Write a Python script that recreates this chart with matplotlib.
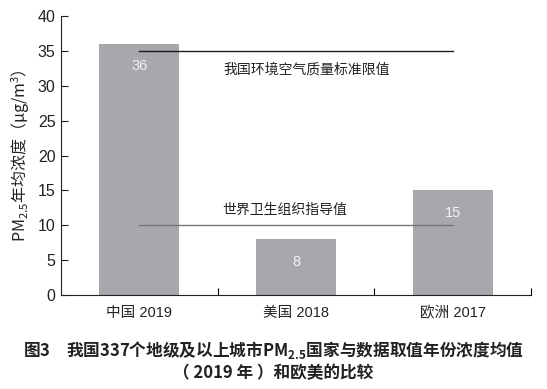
import numpy as np
import matplotlib.pyplot as plt

plt.rcParams['font.family'] = ['Liberation Sans', 'Noto Sans CJK SC']
plt.rcParams['axes.unicode_minus'] = False

categories = ['中国 2019', '美国 2018', '欧洲 2017']
values = [36, 8, 15]
labels = ['36', '8', '15']
china_std = 35
who_std = 10

fig = plt.figure(figsize=(5.47, 3.89), dpi=100)
ax = fig.add_axes([61/547, 94/389, 470/547, 279/389])

x = np.arange(len(categories))
ax.bar(x, values, width=0.51, color='#a7a8ab', zorder=1)
for xi, v, t in zip(x, values, labels):
    ax.text(xi, v - 3.2, t, ha='center', va='center', color='#f2f2f2', fontsize=10.5)

ax.plot([0, 2], [china_std, china_std], color='#1a1a1a', lw=1.0, zorder=2)
ax.plot([0, 2], [who_std, who_std], color='#777777', lw=1.0, zorder=2)
ax.text(1.07, 32.3, '我国环境空气质量标准限值', ha='center', va='center', fontsize=10, color='#222222')
ax.text(0.93, 12.2, '世界卫生组织指导值', ha='center', va='center', fontsize=10, color='#222222')

ax.set_xlim(-0.5, 2.5)
ax.set_ylim(0, 40)
ax.set_yticks(range(0, 41, 5))
ax.tick_params(axis='y', direction='in', length=5, labelsize=11.5, colors='#222222', pad=4)
ax.set_xticks([0.5, 1.5, 2.5])
ax.set_xticklabels([])
ax.set_xticks(x, minor=True)
ax.set_xticklabels(categories, minor=True, fontsize=10.5, color='#222222')
ax.tick_params(axis='x', which='major', direction='in', length=5)
ax.tick_params(axis='x', which='minor', length=0, pad=8)
for s in ['top', 'right']:
    ax.spines[s].set_visible(False)
ax.spines['left'].set_color('#222222')
ax.spines['bottom'].set_color('#222222')

ax.set_ylabel(r'PM$_{\mathdefault{2.5}}$年均浓度（μg/m$^{\mathdefault{3}}$）', family='Noto Sans CJK SC',
              fontsize=11.5, color='#222222', labelpad=4)

fig.text(0.5, 1 - 350/389, r'图3　我国337个地级及以上城市PM$_{\mathdefault{2.5}}$国家与数据取值年份浓度均值',
         family='Noto Sans CJK SC', fontweight='bold', ha='center', va='center', fontsize=12, color='#222222')
fig.text(0.5, 1 - 373/389, '（ 2019 年 ）和欧美的比较', family='Noto Sans CJK SC', ha='center', va='center',
         fontsize=12, fontweight='bold', color='#222222')

fig.savefig('out.png', dpi=100)
